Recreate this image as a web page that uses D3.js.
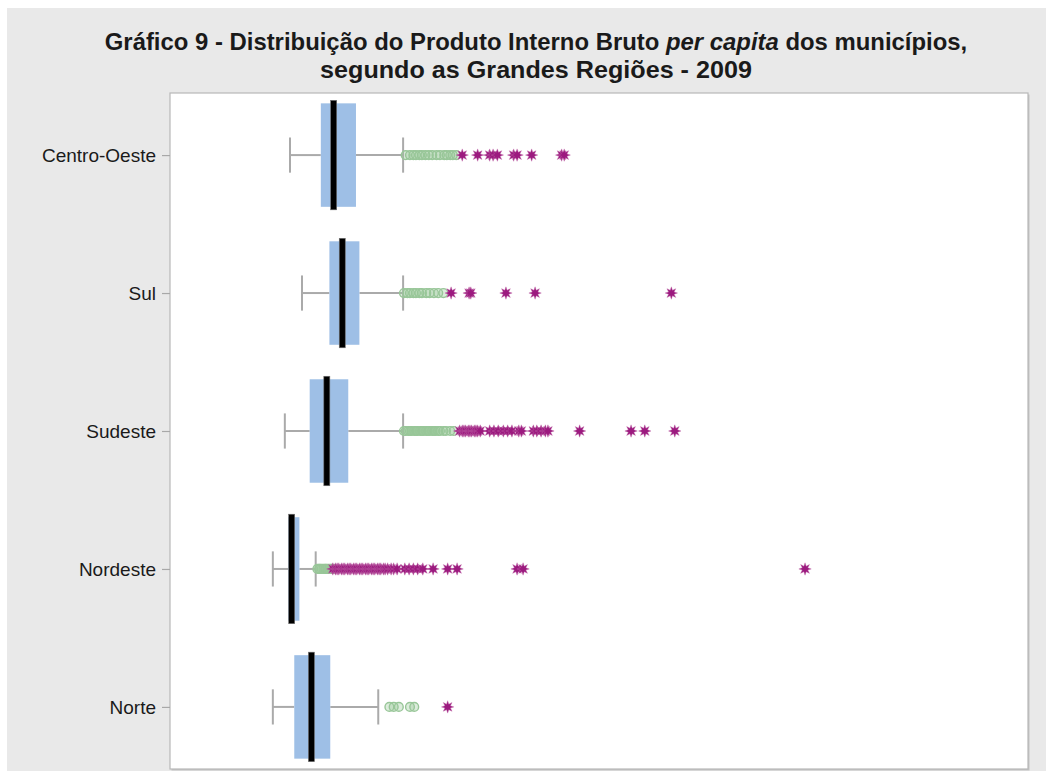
<!DOCTYPE html>
<html>
<head>
<meta charset="utf-8">
<script src="https://cdn.jsdelivr.net/npm/d3@7"></script>
<style>
  body { margin: 0; background: #ffffff; }
  svg { display: block; }
</style>
</head>
<body>
<div id="chart"></div>
<script>
// regions, top to bottom
const regions = ["Centro-Oeste", "Sul", "Sudeste", "Nordeste", "Norte"];

// box statistics (relative units)
const whiskerLow  = [14.0, 15.4, 13.4, 12.0, 12.0];
const quartile1   = [17.6, 18.6, 16.3, 13.8, 14.5];
const medians     = [19.1, 20.1, 18.3, 14.2, 16.5];
const quartile3   = [21.7, 22.1, 20.8, 15.1, 18.7];
const whiskerHigh = [27.2, 27.2, 27.2, 17.0, 24.3];

// moderate outliers (circles)
const moderateOutliers = [
  [27.5, 28.0, 28.4, 28.7, 29.1, 29.4, 29.8, 30.2, 30.6, 31.1, 31.5, 32.0, 32.3, 32.7, 33.0, 33.4],
  [27.3, 27.7, 28.0, 28.4, 28.7, 29.1, 29.4, 29.9, 30.3, 30.8, 31.3, 31.9],
  [27.3, 27.5, 27.8, 28.0, 28.2, 28.5, 28.7, 28.9, 29.2, 29.4, 29.6, 29.9, 30.1, 30.3, 30.6, 30.8,
   31.0, 31.3, 31.5, 31.9, 32.2, 32.7, 33.1],
  [17.2, 17.4, 17.5, 17.7, 17.9, 18.1, 18.2, 18.4, 18.6, 18.8, 18.9, 19.1],
  [25.6, 26.1, 26.7, 28.0, 28.5]
];

// extreme outliers (stars)
const extremeOutliers = [
  [34.1, 35.9, 37.3, 37.7, 38.2, 40.1, 40.5, 42.2, 45.7, 46.0],
  [32.8, 34.9, 35.1, 39.2, 42.6, 58.5],
  [33.8, 34.1, 34.3, 34.5, 34.8, 35.0, 35.2, 35.5, 35.7, 35.9, 36.2, 37.3, 37.8, 38.3, 38.9, 39.4,
   39.9, 40.7, 41.0, 42.4, 42.8, 43.3, 43.8, 44.1, 47.8, 53.8, 55.4, 58.9],
  [19.0, 19.3, 19.5, 19.7, 20.0, 20.2, 20.4, 20.7, 20.9, 21.1, 21.4, 21.6, 21.8, 22.1, 22.3, 22.5,
   22.8, 23.0, 23.2, 23.5, 23.7, 23.9, 24.2, 24.4, 24.6, 24.9, 25.1, 25.4, 25.8, 26.1, 26.5,
   27.4, 27.9, 28.4, 28.9, 29.5, 30.7, 32.4, 33.5, 40.5, 41.2, 74.1],
  [32.4]
];

const width = 1046, height = 771;
const plot = { left: 170, top: 93, right: 1028, bottom: 769 };

const svg = d3.select("#chart")
  .append("svg")
    .attr("width", width)
    .attr("height", height);

// grey panel
svg.append("rect")
  .attr("x", 7).attr("y", 8)
  .attr("width", width - 7).attr("height", height - 8)
  .attr("fill", "#e9e9e9");

// title
const title = svg.append("g")
  .attr("font-family", "'Liberation Sans Narrow', 'Arial Narrow', 'Liberation Sans', sans-serif")
  .attr("font-weight", "bold")
  .attr("font-size", 23)
  .attr("fill", "#1a1a1a")
  .attr("text-anchor", "middle");

const line1 = title.append("text").attr("x", 536).attr("y", 50);
line1.append("tspan").text("Gráfico 9 - Distribuição do Produto Interno Bruto ");
line1.append("tspan").attr("font-style", "italic").text("per capita");
line1.append("tspan").text(" dos municípios,");

const line2 = title.append("text").attr("x", 536).attr("y", 78)
  .text("segundo as Grandes Regiões - 2009");

// squeeze each title line to the width seen in the picture
[[line1, 863], [line2, 432]].forEach(([t, w]) => {
  const bw = t.node().getBBox().width;
  const sx = w / bw;
  t.attr("transform", "translate(" + 536 + ",0) scale(" + sx + ",1) translate(" + (-536) + ",0)");
});

// plot frame
svg.append("rect")
  .attr("x", plot.left + 1.5).attr("y", plot.top + 1.5)
  .attr("width", plot.right - plot.left).attr("height", plot.bottom - plot.top)
  .attr("fill", "#c4c4c4");
svg.append("rect")
  .attr("x", plot.left).attr("y", plot.top)
  .attr("width", plot.right - plot.left).attr("height", plot.bottom - plot.top)
  .attr("fill", "#ffffff")
  .attr("stroke", "#b8b8b8")
  .attr("stroke-width", 1.2);

// scales
const x = d3.scaleLinear()
  .domain([0, 100])
  .range([plot.left, plot.right - 1]);

const y = d3.scalePoint()
  .domain(regions)
  .range([plot.top, plot.bottom])
  .padding(0.45);

// y axis with ticks outside
const yAxis = svg.append("g")
  .attr("transform", "translate(" + plot.left + ",0)")
  .call(d3.axisLeft(y).tickSize(8).tickPadding(6));
yAxis.select(".domain").remove();
yAxis.selectAll(".tick line").attr("stroke", "#a8a8a8").attr("stroke-width", 1.2);
yAxis.selectAll(".tick text")
  .attr("fill", "#1a1a1a")
  .attr("font-size", 19)
  .attr("font-family", "'Liberation Sans', Arial, sans-serif");

const step = y.step();
const boxH = step * 0.75;
const capH = step * 0.255;

const rows = regions.map((r, i) => ({
  region: r,
  low: whiskerLow[i], q1: quartile1[i], med: medians[i], q3: quartile3[i], high: whiskerHigh[i],
  mod: moderateOutliers[i], ext: extremeOutliers[i]
}));

const g = svg.append("g")
  .selectAll("g")
  .data(rows)
  .enter()
  .append("g")
    .attr("transform", d => "translate(0," + y(d.region) + ")");

// whiskers
g.append("line")
  .attr("x1", d => x(d.low)).attr("x2", d => x(d.q1))
  .attr("stroke", "#aaaaaa").attr("stroke-width", 2);
g.append("line")
  .attr("x1", d => x(d.q3)).attr("x2", d => x(d.high))
  .attr("stroke", "#aaaaaa").attr("stroke-width", 2);
g.append("line")
  .attr("x1", d => x(d.low)).attr("x2", d => x(d.low))
  .attr("y1", -capH / 2).attr("y2", capH / 2)
  .attr("stroke", "#aaaaaa").attr("stroke-width", 2);
g.append("line")
  .attr("x1", d => x(d.high)).attr("x2", d => x(d.high))
  .attr("y1", -capH / 2).attr("y2", capH / 2)
  .attr("stroke", "#aaaaaa").attr("stroke-width", 2);

// boxes
g.append("rect")
  .attr("x", d => x(d.q1))
  .attr("y", -boxH / 2)
  .attr("width", d => x(d.q3) - x(d.q1))
  .attr("height", boxH)
  .attr("fill", "#9ebfe6");

// median bars
g.append("rect")
  .attr("x", d => x(d.med) - 3)
  .attr("y", -boxH / 2 - 3)
  .attr("width", 6)
  .attr("height", boxH + 6)
  .attr("fill", "#000000")
  .attr("stroke", "#6f6f6f")
  .attr("stroke-width", 0.6);

// moderate outliers
g.selectAll("circle")
  .data(d => d.mod)
  .enter()
  .append("circle")
    .attr("cx", d => x(d))
    .attr("cy", 0)
    .attr("r", 4.4)
    .attr("fill", "rgba(156,200,156,0.35)")
    .attr("stroke", "#98c698")
    .attr("stroke-width", 1.4);

// extreme outliers: 8 pointed burst
const burst = (() => {
  const pts = [];
  for (let k = 0; k < 16; k++) {
    const a = k * Math.PI / 8 - Math.PI / 2;
    const r = k % 2 === 0 ? 6.2 : 3.0;
    pts.push([r * Math.cos(a), r * Math.sin(a)]);
  }
  return "M" + pts.map(p => p[0].toFixed(2) + "," + p[1].toFixed(2)).join("L") + "Z";
})();

g.selectAll("path.star")
  .data(d => d.ext)
  .enter()
  .append("path")
    .attr("class", "star")
    .attr("d", burst)
    .attr("transform", d => "translate(" + x(d) + ",0)")
    .attr("fill", "#9c1a7f")
    .attr("stroke", "#c06aa8")
    .attr("stroke-width", 0.4);
</script>
</body>
</html>
